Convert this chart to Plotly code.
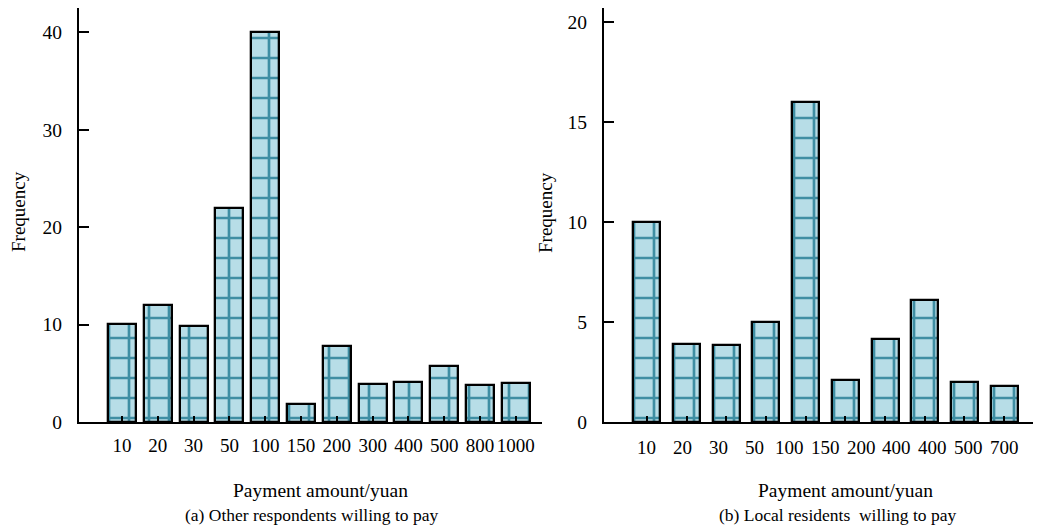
import numpy as np
import plotly.graph_objects as go

# Panel (a): other respondents
labels_a = ["10", "20", "30", "50", "100", "150", "200", "300", "400", "500", "800", "1000"]
freq_a = [10.1, 12.0, 9.9, 22.0, 40.0, 1.8, 7.8, 3.9, 4.1, 5.8, 3.8, 4.0]

# Panel (b): local residents
labels_b = ["10", "20", "30", "50", "100", "150", "200", "400", "400", "500", "700"]
freq_b = [10.0, 3.9, 3.85, 5.0, 16.0, 2.1, 4.15, 6.1, 2.0, 1.8]

yticks_a = [0, 10, 20, 30, 40]
yticks_b = [0, 5, 10, 15, 20]

W, H = 1041, 531
OFF = 8  # page body margin
FONT = "Liberation Serif"
FILL = "#b7dde7"
GRID = "#3f8ea3"

def px(x):
    return (x - OFF) / W

def py(y):
    return 1 - (y - OFF) / H

fig = go.Figure()

xa = list(range(len(freq_a)))
xb = list(range(len(freq_b)))

pattern = dict(shape="+", size=20, solidity=0.25, fgcolor=GRID, bgcolor=FILL, fillmode="replace")

fig.add_trace(go.Bar(x=xa, y=freq_a, width=0.78, xaxis="x", yaxis="y",
                     marker=dict(color=FILL, line=dict(color="black", width=2.3), pattern=pattern),
                     showlegend=False))
fig.add_trace(go.Bar(x=xb, y=freq_b, width=0.68, xaxis="x2", yaxis="y2",
                     marker=dict(color=FILL, line=dict(color="black", width=2.3), pattern=pattern),
                     showlegend=False))

ydom = [py(422), py(8)]
xtickfont = dict(family=FONT, size=19, color="black")
ytickfont = dict(family=FONT, size=19.5, color="black")

fig.update_layout(
    width=W, height=H,
    margin=dict(l=0, r=0, t=0, b=0),
    paper_bgcolor="white", plot_bgcolor="white",
    bargap=0,
    xaxis=dict(domain=[px(79), px(542)], range=[-1.2, len(freq_a) - 1 + 0.73],
               tickvals=xa, ticktext=labels_a, ticks="inside", ticklen=6, tickwidth=2,
               tickcolor="black", showline=True, linecolor="black", linewidth=2,
               showgrid=False, zeroline=False, tickfont=xtickfont, ticklabelstandoff=5,
               anchor="y", automargin=False),
    yaxis=dict(domain=ydom, range=[0, 42.5], tickvals=yticks_a, ticks="inside", ticklen=10,
               tickwidth=2, tickcolor="black", showline=True, linecolor="black", linewidth=2,
               showgrid=False, zeroline=False, tickfont=ytickfont, ticklabelstandoff=11,
               anchor="x", automargin=False),
    xaxis2=dict(domain=[px(604), px(1041)], range=[-1.08, len(freq_b) - 1 + 0.93],
                tickvals=xb, ticks="inside", ticklen=6, tickwidth=2, tickcolor="black",
                showticklabels=False, showline=True, linecolor="black", linewidth=2,
                showgrid=False, zeroline=False, anchor="y2", automargin=False),
    yaxis2=dict(domain=ydom, range=[0, 20.7], tickvals=yticks_b, ticks="inside", ticklen=10,
                tickwidth=2, tickcolor="black", showline=True, linecolor="black", linewidth=2,
                showgrid=False, zeroline=False, tickfont=ytickfont, ticklabelstandoff=11,
                anchor="x2", automargin=False),
)

# Panel (b) tick labels are spread evenly across the bar span (they do not align with bars)
label_pos_b = np.linspace(0, len(freq_b) - 1, len(labels_b))
for pos, lab in zip(label_pos_b, labels_b):
    fig.add_annotation(xref="x2", yref="paper", x=float(pos), y=py(447), text=lab,
                       xanchor="center", yanchor="middle", showarrow=False, font=xtickfont)

annos = [
    dict(text="Frequency", x=px(18), y=py(212), textangle=-90, size=19),
    dict(text="Frequency", x=px(545), y=py(212), textangle=-90, size=19),
    dict(text="Payment amount/yuan", x=px(320), y=py(491), size=19.5),
    dict(text="Payment amount/yuan", x=px(845), y=py(491), size=19.5),
    dict(text="(a) Other respondents willing to pay", x=px(311), y=py(515), size=17.5),
    dict(text="(b) Local residents\u00a0 willing to pay", x=px(837), y=py(515), size=17.5),
]
for a in annos:
    size = a.pop("size")
    fig.add_annotation(xref="paper", yref="paper", xanchor="center", yanchor="middle",
                       showarrow=False, font=dict(family=FONT, size=size, color="black"), **a)

fig.write_html("out.html")
